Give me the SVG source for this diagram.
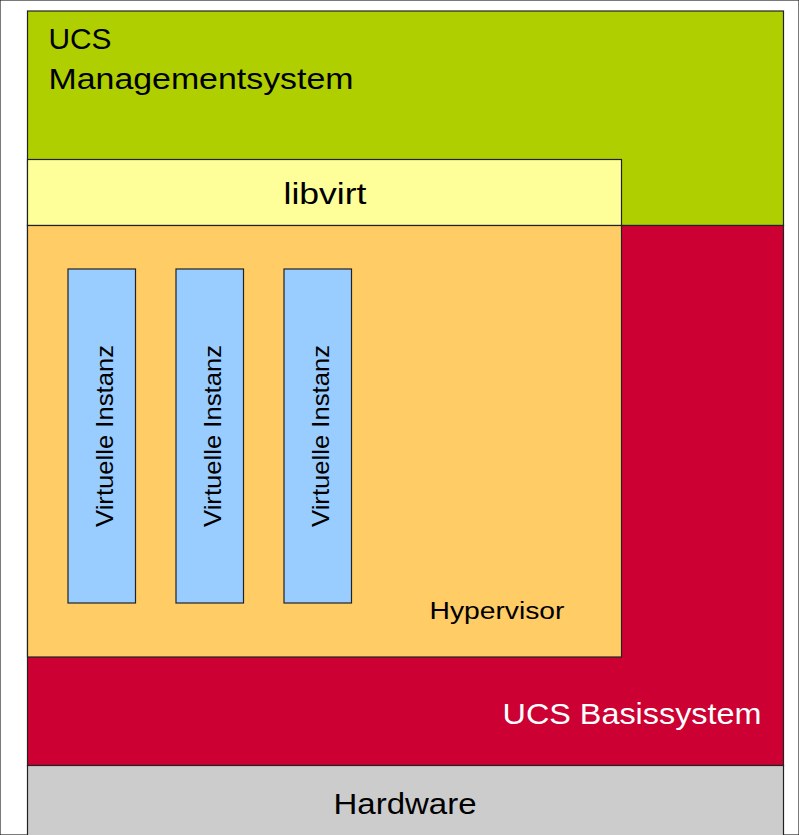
<svg xmlns="http://www.w3.org/2000/svg" width="799" height="835" viewBox="0 0 799 835">
<style>
rect{stroke:#222;stroke-width:1.2}
text{font-family:"Liberation Sans",Arial,sans-serif}
.big{font-size:29px}
.vi{font-size:24px;text-anchor:middle}
</style>
<rect width="799" height="835" fill="#fff" stroke="none"/>
<g id="management">
<rect x="27.5" y="11" width="756" height="214.5" fill="#afcf00"/>
<text class="big" x="48.5" y="48.5" textLength="63" lengthAdjust="spacingAndGlyphs">UCS</text>
<text class="big" x="48.5" y="88.5" textLength="305" lengthAdjust="spacingAndGlyphs">Managementsystem</text>
</g>
<g id="basissystem">
<rect x="27.5" y="225.5" width="756" height="540" fill="#cc0033"/>
<text class="big" x="502.5" y="723.5" fill="#fff" textLength="259" lengthAdjust="spacingAndGlyphs">UCS Basissystem</text>
</g>
<g id="hardware">
<rect x="27.5" y="765.5" width="756" height="75" fill="#cccccc"/>
<text class="big" x="333.5" y="813.5" textLength="143" lengthAdjust="spacingAndGlyphs">Hardware</text>
</g>
<g id="libvirt">
<rect x="27.5" y="159.5" width="594" height="66" fill="#ffff99"/>
<text class="big" x="283.5" y="203.5" textLength="83" lengthAdjust="spacingAndGlyphs">libvirt</text>
</g>
<g id="hypervisor">
<rect x="27.5" y="225.5" width="594" height="431.5" fill="#ffcc66"/>
<text x="429.5" y="618.5" font-size="23" textLength="135" lengthAdjust="spacingAndGlyphs">Hypervisor</text>
</g>
<g id="instanz1">
<rect x="68" y="269" width="67.5" height="334" fill="#99ccff"/>
<text class="vi" transform="translate(112.5,436) rotate(-90)" textLength="182" lengthAdjust="spacingAndGlyphs">Virtuelle Instanz</text>
</g>
<g id="instanz2">
<rect x="176" y="269" width="67.5" height="334" fill="#99ccff"/>
<text class="vi" transform="translate(220.5,436) rotate(-90)" textLength="182" lengthAdjust="spacingAndGlyphs">Virtuelle Instanz</text>
</g>
<g id="instanz3">
<rect x="284" y="269" width="67.5" height="334" fill="#99ccff"/>
<text class="vi" transform="translate(328.5,436) rotate(-90)" textLength="182" lengthAdjust="spacingAndGlyphs">Virtuelle Instanz</text>
</g>
<g id="connectors"></g>
</svg>
